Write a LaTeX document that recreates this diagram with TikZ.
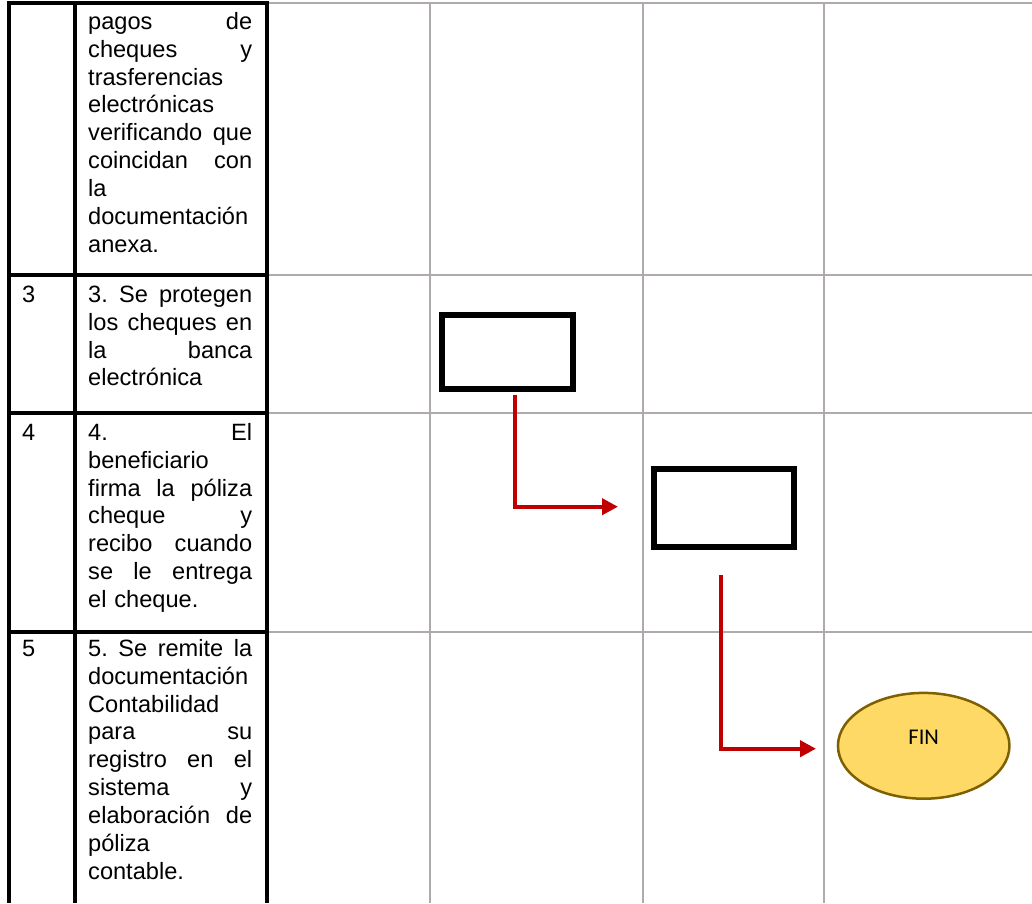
\documentclass[tikz,border=0pt]{standalone}
\usepackage{fontspec}
\setmainfont{Liberation Sans}
\newfontfamily\calibrifont{Carlito}
\usetikzlibrary{arrows.meta,shapes.geometric}
\definecolor{gridgray}{HTML}{AEAAAE}
\definecolor{flowred}{HTML}{C00000}
\definecolor{endfill}{HTML}{FFD966}
\definecolor{enddraw}{HTML}{7F6000}

\begin{document}
\begin{tikzpicture}[x=1pt,y=-1pt,
  grid/.style={draw=gridgray, line width=2pt},
  rule/.style={draw=black, line width=4pt},
  celltext/.style={anchor=north west, inner sep=0pt, text width=164pt, align=left,
    font=\fontsize{23.6}{27.9}\selectfont},
  stepnum/.style={anchor=base west, inner sep=0pt, font=\fontsize{23.6}{27.9}\selectfont},
  procbox/.style={draw=black, fill=white, inner sep=0pt},
  flow/.style={draw=flowred, line width=4pt, -{Triangle[length=16pt,width=16pt]}},
  endnode/.style={ellipse, draw=enddraw, fill=endfill, line width=2.5pt,
    minimum width=171.5pt, minimum height=105.8pt, inner sep=0pt,
    text height=10pt, text depth=13.6pt, font=\calibrifont\fontsize{22.5}{26}\selectfont}]

\useasboundingbox (0,0) rectangle (1032,903);
\fill[white] (0,0) rectangle (1032,903);

% light grid of the swimlane columns
\draw[grid] (267,3) -- (1032,3);
\foreach \y in {275,412.5,631.5} \draw[grid] (267,\y) -- (1032,\y);
\foreach \x in {430,642.5,824} \draw[grid] (\x,3) -- (\x,903);

% heavy rules of the step and description columns
\draw[rule] (9,3) -- (9,903);
\draw[rule] (74.7,3) -- (74.7,903);
\draw[rule] (267,3) -- (267,903);
\draw[rule] (7,3) -- (269,3);
\foreach \y in {275,412.5,631.5} \draw[rule] (7,\y) -- (269,\y);

% step numbers
\node[stepnum] (n3) at (22,302) {3};
\node[stepnum] (n4) at (22,440) {4};
\node[stepnum] (n5) at (22,656) {5};

% step descriptions
\node[celltext] (d2) at (88,29-19.53) {\strut pagos\hfill de\\
  cheques\hfill y\\
  trasferencias\\
  electrónicas\\
  verificando\hfill que\\
  coincidan\hfill con\\
  la\\
  documentación\\
  anexa.};
\node[celltext] (d3) at (88,302-19.53) {\strut 3.\hfill Se\hfill protegen\\
  los\hfill cheques\hfill en\\
  la\hfill banca\\
  electrónica};
\node[celltext] (d4) at (88,440-19.53) {\strut 4.\hfill El\\
  beneficiario\\
  firma\hfill la\hfill póliza\\
  cheque\hfill y\\
  recibo\hfill cuando\\
  se\hfill le\hfill entrega\\
  el cheque.};
\node[celltext] (d5) at (88,656-19.53) {\strut 5.\hfill Se\hfill remite\hfill la\\
  documentación\\
  Contabilidad\\
  para\hfill su\\
  registro\hfill en\hfill el\\
  sistema\hfill y\\
  elaboración\hfill de\\
  póliza\\
  contable.};

% process boxes and end terminal
\node[procbox, line width=5.5pt, minimum width=131pt, minimum height=74pt] (p3) at (507.5,352) {};
\node[procbox, line width=6pt, minimum width=140.5pt, minimum height=78pt] (p4) at (724.2,508) {};
\node[endnode] (fin) at (923.7,745.8) {FIN};

% flow connectors
\coordinate (f1s) at (514.7,395);
\coordinate (f1e) at (618,506.7);
\coordinate (f2s) at (720.7,575);
\coordinate (f2e) at (816,748.7);
\draw[flow] (f1s) |- (f1e);
\draw[flow] (f2s) |- (f2e);
\end{tikzpicture}
\end{document}
